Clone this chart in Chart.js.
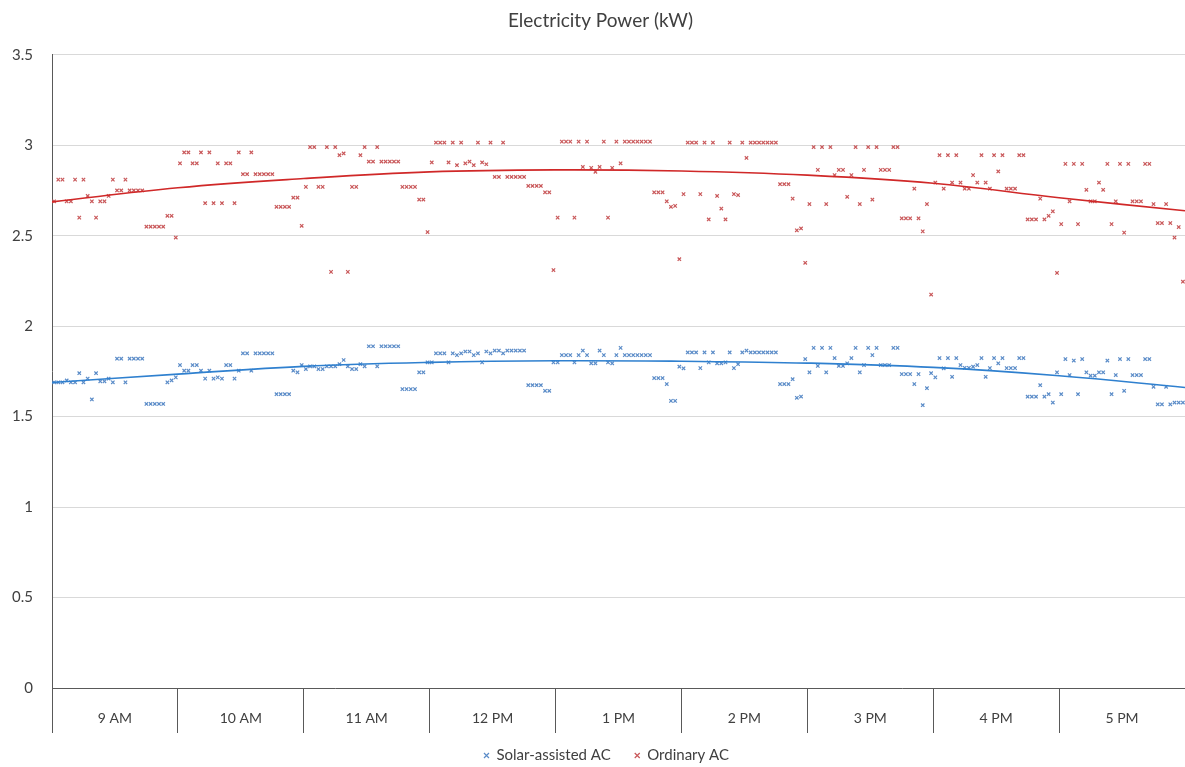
<!DOCTYPE html>
<html>
<head>
<meta charset="utf-8">
<title>Electricity Power (kW)</title>
<script src="https://cdn.jsdelivr.net/npm/chart.js@4.4.1/dist/chart.umd.min.js"></script>
<style>
  html, body { margin: 0; padding: 0; background: #fff; }
  #wrap { width: 1185px; height: 767px; }
</style>
</head>
<body>
<div id="wrap"><canvas id="chart" width="1185" height="767"></canvas></div>
<script>
// hour categories, 30 readings per hour
const hours = ["9 AM", "10 AM", "11 AM", "12 PM", "1 PM", "2 PM", "3 PM", "4 PM", "5 PM"];
const perHour = 30;

// Solar-assisted AC (kW)
const solar = [
  1.69, 1.69, 1.69, 1.70, 1.69, 1.69, 1.74, 1.69, 1.71, 1.595, 1.74, 1.695, 1.695, 1.71, 1.69, 1.82, 1.82, 1.69, 1.82, 1.82, 1.82, 1.82, 1.57, 1.57, 1.57, 1.57, 1.57, 1.69, 1.70, 1.717,
  1.785, 1.754, 1.754, 1.785, 1.785, 1.754, 1.71, 1.754, 1.71, 1.717, 1.71, 1.785, 1.785, 1.71, 1.754, 1.85, 1.85, 1.754, 1.85, 1.85, 1.85, 1.85, 1.85, 1.624, 1.624, 1.624, 1.624, 1.754, 1.745, 1.785,
  1.763, 1.778, 1.778, 1.763, 1.763, 1.778, 1.778, 1.778, 1.79, 1.813, 1.778, 1.763, 1.763, 1.79, 1.778, 1.889, 1.889, 1.778, 1.889, 1.889, 1.889, 1.889, 1.889, 1.652, 1.652, 1.652, 1.652, 1.745, 1.745, 1.80,
  1.80, 1.85, 1.85, 1.85, 1.80, 1.85, 1.84, 1.85, 1.86, 1.86, 1.84, 1.85, 1.80, 1.86, 1.85, 1.865, 1.865, 1.85, 1.865, 1.865, 1.865, 1.865, 1.865, 1.674, 1.674, 1.674, 1.674, 1.643, 1.643, 1.80,
  1.80, 1.84, 1.84, 1.84, 1.80, 1.84, 1.865, 1.84, 1.795, 1.795, 1.865, 1.84, 1.80, 1.795, 1.84, 1.88, 1.84, 1.84, 1.84, 1.84, 1.84, 1.84, 1.84, 1.713, 1.713, 1.713, 1.68, 1.587, 1.587, 1.776,
  1.767, 1.855, 1.855, 1.855, 1.768, 1.855, 1.80, 1.855, 1.795, 1.795, 1.80, 1.855, 1.768, 1.79, 1.855, 1.865, 1.855, 1.855, 1.855, 1.855, 1.855, 1.855, 1.855, 1.68, 1.68, 1.68, 1.707, 1.604, 1.611, 1.818,
  1.745, 1.88, 1.78, 1.88, 1.745, 1.88, 1.824, 1.78, 1.78, 1.795, 1.824, 1.88, 1.745, 1.785, 1.88, 1.84, 1.88, 1.785, 1.785, 1.785, 1.88, 1.88, 1.735, 1.735, 1.735, 1.68, 1.735, 1.563, 1.657, 1.74,
  1.717, 1.824, 1.767, 1.824, 1.72, 1.824, 1.785, 1.77, 1.77, 1.776, 1.785, 1.824, 1.72, 1.768, 1.824, 1.795, 1.824, 1.768, 1.768, 1.768, 1.824, 1.824, 1.61, 1.61, 1.61, 1.674, 1.61, 1.624, 1.578, 1.745,
  1.624, 1.818, 1.73, 1.81, 1.624, 1.818, 1.745, 1.726, 1.726, 1.745, 1.745, 1.81, 1.624, 1.73, 1.818, 1.643, 1.818, 1.73, 1.73, 1.73, 1.818, 1.818, 1.665, 1.568, 1.568, 1.665, 1.568, 1.578, 1.578, 1.578
];

// Ordinary AC (kW)
const ordinary = [
  2.69, 2.81, 2.81, 2.69, 2.69, 2.81, 2.60, 2.81, 2.72, 2.69, 2.60, 2.69, 2.69, 2.72, 2.81, 2.75, 2.75, 2.81, 2.75, 2.75, 2.75, 2.75, 2.55, 2.55, 2.55, 2.55, 2.55, 2.61, 2.61, 2.49,
  2.90, 2.96, 2.96, 2.90, 2.90, 2.96, 2.68, 2.96, 2.68, 2.90, 2.68, 2.90, 2.90, 2.68, 2.96, 2.84, 2.84, 2.96, 2.84, 2.84, 2.84, 2.84, 2.84, 2.66, 2.66, 2.66, 2.66, 2.71, 2.71, 2.555,
  2.77, 2.99, 2.99, 2.77, 2.77, 2.99, 2.30, 2.99, 2.945, 2.955, 2.30, 2.77, 2.77, 2.945, 2.99, 2.91, 2.91, 2.99, 2.91, 2.91, 2.91, 2.91, 2.91, 2.77, 2.77, 2.77, 2.77, 2.70, 2.70, 2.52,
  2.905, 3.015, 3.015, 3.015, 2.905, 3.015, 2.89, 3.015, 2.90, 2.91, 2.89, 3.015, 2.905, 2.895, 3.015, 2.825, 2.825, 3.015, 2.825, 2.825, 2.825, 2.825, 2.825, 2.775, 2.775, 2.775, 2.775, 2.74, 2.74, 2.31,
  2.60, 3.02, 3.02, 3.02, 2.60, 3.02, 2.88, 3.02, 2.875, 2.853, 2.88, 3.02, 2.60, 2.875, 3.02, 2.90, 3.02, 3.02, 3.02, 3.02, 3.02, 3.02, 3.02, 2.74, 2.74, 2.74, 2.69, 2.66, 2.665, 2.37,
  2.73, 3.015, 3.015, 3.015, 2.73, 3.015, 2.59, 3.015, 2.72, 2.65, 2.59, 3.015, 2.73, 2.725, 3.015, 2.93, 3.015, 3.015, 3.015, 3.015, 3.015, 3.015, 3.015, 2.785, 2.785, 2.785, 2.705, 2.53, 2.54, 2.35,
  2.675, 2.99, 2.864, 2.99, 2.675, 2.99, 2.835, 2.864, 2.864, 2.715, 2.835, 2.99, 2.675, 2.864, 2.99, 2.70, 2.99, 2.864, 2.864, 2.864, 2.99, 2.99, 2.596, 2.596, 2.596, 2.76, 2.596, 2.524, 2.675, 2.175,
  2.794, 2.945, 2.76, 2.945, 2.794, 2.945, 2.794, 2.76, 2.76, 2.835, 2.794, 2.945, 2.794, 2.76, 2.945, 2.855, 2.945, 2.76, 2.76, 2.76, 2.945, 2.945, 2.59, 2.59, 2.59, 2.705, 2.59, 2.61, 2.635, 2.294,
  2.564, 2.897, 2.69, 2.897, 2.564, 2.897, 2.754, 2.69, 2.69, 2.794, 2.754, 2.897, 2.564, 2.69, 2.897, 2.517, 2.897, 2.69, 2.69, 2.69, 2.897, 2.897, 2.675, 2.57, 2.57, 2.675, 2.57, 2.49, 2.548, 2.246
];

// trendline values read at each hour boundary (start of 9 AM ... end of 5 PM)
const solarTrend = [1.689, 1.735, 1.778, 1.800, 1.809, 1.806, 1.796, 1.772, 1.726, 1.661];
const ordinaryTrend = [2.687, 2.765, 2.816, 2.853, 2.864, 2.858, 2.835, 2.790, 2.710, 2.638];

const yTicks = [0, 0.5, 1, 1.5, 2, 2.5, 3, 3.5];

const total = hours.length * perHour;
const font = "Lato, 'Noto Sans', sans-serif";

function points(arr) {
  return arr.map((v, i) => ({ x: i + 0.5, y: v }));
}
function trend(arr) {
  return arr.map((v, i) => ({ x: i * perHour, y: v }));
}

// ticks on hour boundaries and hour middles (labels)
const xTicks = [];
for (let v = 0; v <= total; v += perHour / 2) xTicks.push(v);

// nudge legend and title a little right, like the original
const nudge = {
  id: "nudge",
  afterLayout(chart) {
    chart.legend.left += 14;
    chart.legend.right += 14;
    chart.titleBlock.left += 8;
    chart.titleBlock.right += 8;
  }
};

new Chart(document.getElementById("chart"), {
  type: "scatter",
  data: {
    datasets: [
      {
        label: "Solar-assisted AC",
        data: points(solar),
        borderColor: "#5b8cc8",
        backgroundColor: "#5b8cc8",
        pointStyle: "crossRot",
        pointRadius: 2.4,
        borderWidth: 1.2,
        showLine: false
      },
      {
        label: "Ordinary AC",
        data: points(ordinary),
        borderColor: "#c9585a",
        backgroundColor: "#c9585a",
        pointStyle: "crossRot",
        pointRadius: 2.4,
        borderWidth: 1.2,
        showLine: false
      },
      {
        label: "trend-solar",
        data: trend(solarTrend),
        borderColor: "#2f80cf",
        borderWidth: 1.6,
        pointRadius: 0,
        showLine: true,
        tension: 0.4,
        order: -1
      },
      {
        label: "trend-ordinary",
        data: trend(ordinaryTrend),
        borderColor: "#d02828",
        borderWidth: 1.6,
        pointRadius: 0,
        showLine: true,
        tension: 0.4,
        order: -1
      }
    ]
  },
  plugins: [nudge],
  options: {
    responsive: false,
    animation: false,
    events: [],
    layout: { autoPadding: false, padding: { left: 0, right: 0, top: 0, bottom: -6 } },
    plugins: {
      title: {
        display: true,
        text: "Electricity Power (kW)",
        color: "#404040",
        font: { family: font, size: 19, weight: "normal" },
        padding: { top: 9, bottom: 23 }
      },
      legend: {
        position: "bottom",
        labels: {
          usePointStyle: true,
          pointStyle: "crossRot",
          boxWidth: 5,
          boxHeight: 5,
          color: "#404040",
          font: { family: font, size: 15 },
          padding: 24,
          filter: item => !item.text.startsWith("trend")
        }
      },
      tooltip: { enabled: false }
    },
    scales: {
      x: {
        type: "linear",
        min: 0,
        max: total,
        afterBuildTicks: scale => {
          scale.ticks = xTicks.map(v => ({ value: v }));
        },
        afterFit: scale => {
          scale.height = 36;
          scale.paddingLeft = 0;
          scale.paddingRight = 0;
        },
        ticks: {
          autoSkip: false,
          maxRotation: 0,
          padding: -23,
          color: "#404040",
          font: { family: font, size: 14 },
          callback: (value) => {
            if (value % perHour === perHour / 2) return hours[(value - perHour / 2) / perHour];
            return "";
          }
        },
        grid: {
          drawOnChartArea: false,
          drawTicks: true,
          tickLength: 45,
          lineWidth: 1,
          color: ctx => (ctx.tick && ctx.tick.value % perHour === 0) ? "#595959" : "rgba(0,0,0,0)"
        },
        border: { display: true, color: "#595959", width: 1 }
      },
      y: {
        min: 0,
        max: 3.5,
        afterBuildTicks: scale => {
          scale.ticks = yTicks.map(v => ({ value: v }));
        },
        afterFit: scale => { scale.width = 52; },
        ticks: {
          padding: 19,
          color: "#404040",
          font: { family: font, size: 15 },
          callback: v => String(v)
        },
        grid: {
          color: "#d9d9d9",
          drawTicks: false
        },
        border: { display: true, color: "#595959", width: 1 }
      }
    }
  }
});
</script>
</body>
</html>
